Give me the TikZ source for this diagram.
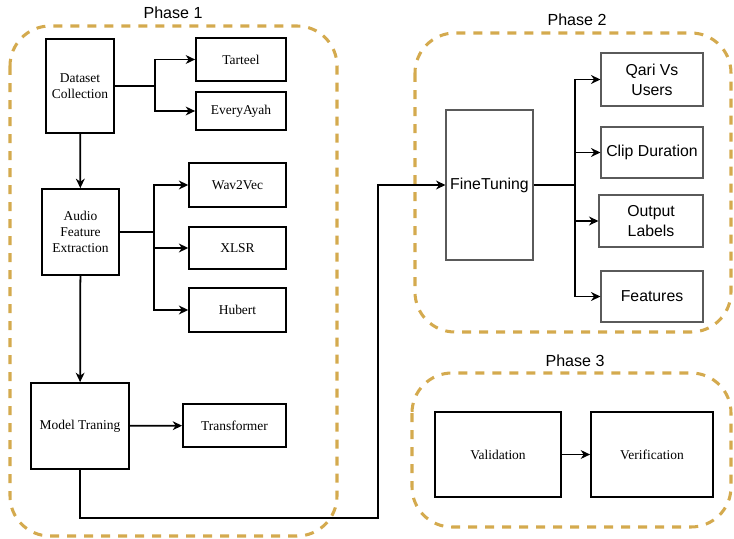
\documentclass[tikz,border=0pt]{standalone}
\usepackage{fontspec}
\setmainfont{Liberation Serif}
\newfontfamily\phasefont{Liberation Sans}
\usetikzlibrary{arrows.meta}
\definecolor{phasegold}{RGB}{212,170,78}
\definecolor{boxgray}{RGB}{90,90,90}
\tikzset{
	serifbox/.style={draw=black, line width=1.5pt, align=center, inner sep=2pt, font=\fontsize{11.5}{13.5}\selectfont},
	sansbox/.style={draw=boxgray, line width=0.9pt, align=center, inner sep=2pt, font=\phasefont\fontsize{13.5}{17}\selectfont},
	phaseframe/.style={draw=phasegold, line width=2.6pt, dash pattern=on 0.27cm off 0.24cm, rounded corners=1.2cm},
	phasetitle/.style={font=\phasefont\fontsize{13.7}{16}\selectfont},
	arr/.style={line width=1.5pt, -{Stealth[length=8pt,width=7.5pt,inset=2.5pt]}},
	link/.style={line width=1.5pt}
}
\begin{document}
\begin{tikzpicture}[x=0.03cm, y=-0.03cm]
		\useasboundingbox (0,0) rectangle (734,539);
		
		% Draw phase frames.
		\draw[phaseframe] (10,26) rectangle (337,536);
		\draw[phaseframe] (415,33) rectangle (731,332);
		\draw[phaseframe] (412,373) rectangle (731,527);
		\node[phasetitle] (p1) at (173,13) {Phase 1};
		\node[phasetitle] (p2) at (577,20) {Phase 2};
		\node[phasetitle] (p3) at (575,361) {Phase 3};
		
		% Phase 1 nodes.
		\node[serifbox, minimum width=2.04cm, minimum height=2.82cm] (ds) at (80,86) {Dataset\\Collection};
		\node[serifbox, minimum width=2.7cm, minimum height=1.29cm] (tarteel) at (241,59.5) {Tarteel};
		\node[serifbox, minimum width=2.7cm, minimum height=1.14cm] (everyayah) at (241,111) {EveryAyah};
		\node[serifbox, minimum width=2.31cm, minimum height=2.58cm] (afe) at (80.5,232) {Audio\\Feature\\Extraction};
		\node[serifbox, minimum width=2.9cm, minimum height=1.32cm] (wav) at (237.5,185) {Wav2Vec};
		\node[serifbox, minimum width=2.9cm, minimum height=1.26cm] (xlsr) at (237.5,248) {XLSR};
		\node[serifbox, minimum width=2.9cm, minimum height=1.32cm] (hubert) at (237.5,310) {Hubert};
		\node[serifbox, minimum width=2.94cm, minimum height=2.58cm] (mt) at (80,426) {Model Traning};
		\node[serifbox, minimum width=3.09cm, minimum height=1.29cm] (trans) at (234.5,425.5) {Transformer};
		
		% Phase 2 nodes.
		\node[sansbox, minimum width=2.61cm, minimum height=4.5cm] (ft) at (489.5,185) {FineTuning};
		\node[sansbox, minimum width=3.06cm, minimum height=1.59cm] (qari) at (652,79.5) {Qari Vs\\Users};
		\node[sansbox, minimum width=3.06cm, minimum height=1.53cm] (clip) at (652,152.5) {Clip Duration};
		\node[sansbox, minimum width=3.12cm, minimum height=1.56cm] (outlab) at (651,221) {Output\\Labels};
		\node[sansbox, minimum width=3.06cm, minimum height=1.53cm] (feat) at (652,296.5) {Features};
		
		% Phase 3 nodes.
		\node[serifbox, minimum width=3.78cm, minimum height=2.55cm] (valid) at (498,454.5) {Validation};
		\node[serifbox, minimum width=3.66cm, minimum height=2.55cm] (verif) at (652,454.5) {Verification};
		
		% Branch points.
		\coordinate (b1) at (155,0);
		\coordinate (b2) at (154,0);
		\coordinate (b3) at (575,0);
		\coordinate (turn) at (378,518);
		
		% Connect Dataset Collection.
		\draw[link] (ds.east) -- (ds.east -| b1);
		\draw[arr] (ds.east -| b1) |- (tarteel.west);
		\draw[arr] (ds.east -| b1) |- (everyayah.west);
		\draw[arr] (ds) -- (afe);
		
		% Connect Audio Feature Extraction.
		\draw[link] (afe.east) -- (afe.east -| b2);
		\draw[arr] (afe.east -| b2) |- (wav.west);
		\draw[arr] (afe.east -| b2) |- (xlsr.west);
		\draw[arr] (afe.east -| b2) |- (hubert.west);
		\draw[arr] (afe) -- (mt);
		
		% Connect Model Traning.
		\draw[arr] (mt) -- (trans);
		\draw[arr] (mt.south) |- (turn) |- (ft.west);
		
		% Connect FineTuning.
		\draw[link] (ft.east) -- (ft.east -| b3);
		\draw[arr] (ft.east -| b3) |- (qari.west);
		\draw[arr] (ft.east -| b3) |- (clip.west);
		\draw[arr] (ft.east -| b3) |- (outlab.west);
		\draw[arr] (ft.east -| b3) |- (feat.west);
		
		% Connect Validation and Verification.
		\draw[arr] (valid) -- (verif);
	\end{tikzpicture}
\end{document}
